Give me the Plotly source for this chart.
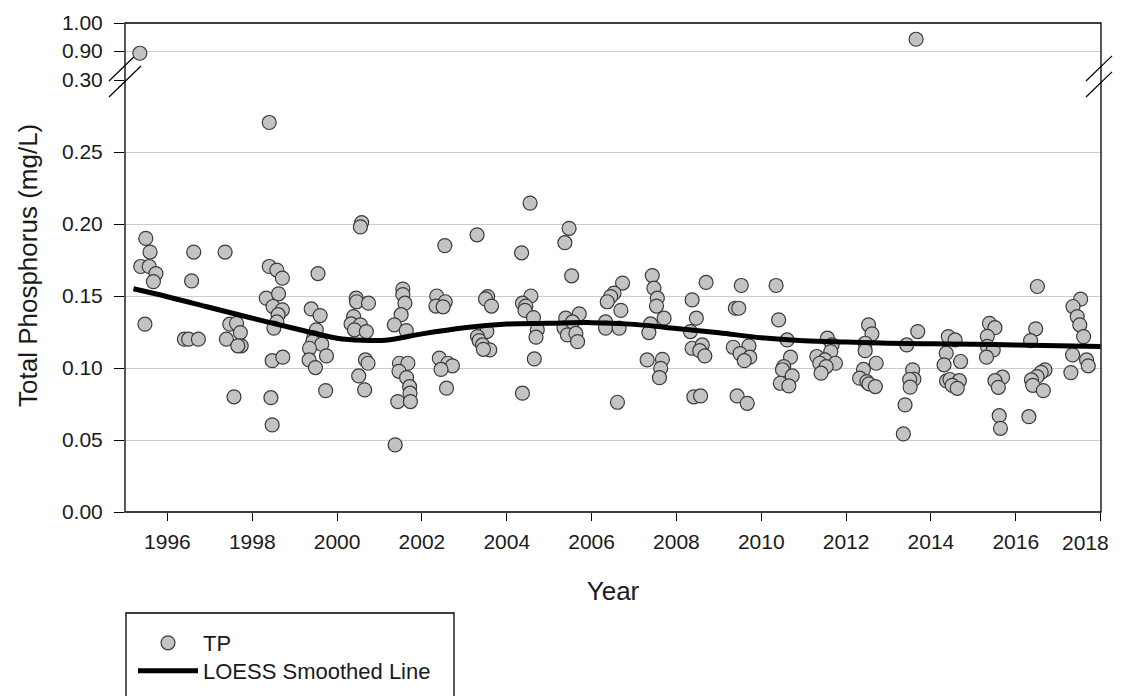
import plotly.graph_objects as go

# ---------------- data ----------------
tp_year = [
    1995.49, 1995.59, 1995.37, 1995.57, 1995.73, 1995.67, 1995.47,
    1996.62, 1996.57, 1996.40, 1996.50, 1996.73,
    1997.36, 1997.47, 1997.63, 1997.72, 1997.39, 1997.74, 1997.66, 1997.57,
    1998.40, 1998.40, 1998.58, 1998.71, 1998.33, 1998.62, 1998.49, 1998.71, 1998.61, 1998.58,
    1998.51, 1998.47, 1998.72, 1998.44, 1998.47,
    1999.55, 1999.39, 1999.60, 1999.51, 1999.45, 1999.43, 1999.64, 1999.35, 1999.75, 1999.34,
    1999.49, 1999.73,
    2000.58, 2000.55, 2000.45, 2000.46, 2000.74, 2000.39, 2000.33, 2000.55, 2000.41, 2000.69,
    2000.67, 2000.73, 2000.51, 2000.65,
    2001.55, 2001.55, 2001.60, 2001.51, 2001.35, 2001.63, 2001.47, 2001.67, 2001.46, 2001.64,
    2001.71, 2001.72, 2001.43, 2001.73, 2001.37,
    2002.54, 2002.35, 2002.55, 2002.33, 2002.50, 2002.41, 2002.61, 2002.72, 2002.45, 2002.58,
    2003.30, 2003.55, 2003.50, 2003.64, 2003.53, 2003.31, 2003.35, 2003.43, 2003.60, 2003.45,
    2004.55, 2004.35, 2004.57, 2004.37, 2004.45, 2004.43, 2004.63, 2004.72, 2004.69, 2004.65,
    2004.37,
    2005.47, 2005.37, 2005.53, 2005.39, 2005.71, 2005.35, 2005.55, 2005.43, 2005.63, 2005.67,
    2006.73, 2006.53, 2006.45, 2006.37, 2006.69, 2006.33, 2006.33, 2006.65, 2006.61,
    2007.43, 2007.47, 2007.55, 2007.53, 2007.71, 2007.39, 2007.35, 2007.31, 2007.67, 2007.63,
    2007.60,
    2008.70, 2008.37, 2008.47, 2008.33, 2008.37, 2008.61, 2008.55, 2008.67, 2008.41, 2008.57,
    2009.53, 2009.39, 2009.47, 2009.34, 2009.71, 2009.50, 2009.73, 2009.60, 2009.43, 2009.67,
    2010.35, 2010.41, 2010.61, 2010.69, 2010.53, 2010.50, 2010.73, 2010.45, 2010.65,
    2011.56, 2011.67, 2011.64, 2011.31, 2011.50, 2011.38, 2011.75, 2011.53, 2011.41,
    2012.53, 2012.61, 2012.45, 2012.45, 2012.71, 2012.41, 2012.32, 2012.49, 2012.54, 2012.69,
    2013.69, 2013.43, 2013.57, 2013.60, 2013.50, 2013.51, 2013.39, 2013.35,
    2014.41, 2014.57, 2014.36, 2014.70, 2014.31, 2014.37, 2014.45, 2014.67, 2014.50, 2014.62,
    2015.38, 2015.51, 2015.33, 2015.33, 2015.47, 2015.31, 2015.69, 2015.51, 2015.59, 2015.61,
    2015.64,
    2016.51, 2016.47, 2016.35, 2016.69, 2016.60, 2016.50, 2016.37, 2016.40, 2016.65, 2016.31,
    2017.53, 2017.35, 2017.45, 2017.51, 2017.60, 2017.34, 2017.67, 2017.71, 2017.30,
]
tp_value = [
    0.190, 0.1805, 0.1705, 0.1705, 0.1656, 0.160, 0.1304,
    0.1805, 0.1605, 0.120, 0.120, 0.120,
    0.1805, 0.1304, 0.131, 0.1246, 0.120, 0.1154, 0.1154, 0.080,
    0.2705, 0.1705, 0.168, 0.1624, 0.1485, 0.1515, 0.1427, 0.1404, 0.137, 0.132,
    0.1277, 0.1051, 0.1075, 0.0794, 0.0605,
    0.1656, 0.141, 0.1364, 0.1265, 0.121, 0.1183, 0.1165, 0.1137, 0.1084, 0.1056,
    0.1003, 0.0843,
    0.201, 0.198, 0.1485, 0.146, 0.145, 0.1357, 0.1306, 0.130, 0.1265, 0.1253,
    0.1056, 0.1033, 0.0945, 0.0848,
    0.1548, 0.151, 0.145, 0.137, 0.130, 0.126, 0.1033, 0.1033, 0.0977, 0.0933,
    0.087, 0.0825, 0.0767, 0.0767, 0.0466,
    0.185, 0.150, 0.146, 0.143, 0.1425, 0.1068, 0.1033, 0.1015, 0.099, 0.086,
    0.1925, 0.1496, 0.148, 0.143, 0.1253, 0.1218, 0.119, 0.116, 0.1126, 0.113,
    0.2145, 0.180, 0.150, 0.145, 0.143, 0.140, 0.135, 0.1265, 0.1214, 0.1063,
    0.0825,
    0.197, 0.187, 0.164, 0.1346, 0.1376, 0.1277, 0.132, 0.123, 0.124, 0.1183,
    0.159, 0.152, 0.1496, 0.146, 0.140, 0.132, 0.1277, 0.1277, 0.0762,
    0.1642, 0.1554, 0.1485, 0.143, 0.1346, 0.1306, 0.1246, 0.1056, 0.106, 0.0998,
    0.0933,
    0.1594, 0.1473, 0.1346, 0.1253, 0.1137, 0.116, 0.112, 0.1084, 0.080, 0.0806,
    0.1573, 0.1415, 0.1415, 0.1144, 0.1154, 0.110, 0.1075, 0.1051, 0.0806, 0.0755,
    0.1573, 0.1334, 0.1195, 0.1075, 0.101, 0.0988, 0.0945, 0.0894, 0.0876,
    0.1207, 0.116, 0.1114, 0.108, 0.1056, 0.1033, 0.1033, 0.101, 0.0964,
    0.130, 0.1237, 0.1172, 0.112, 0.1033, 0.099, 0.0929, 0.0906, 0.089, 0.0871,
    0.1253, 0.116, 0.0987, 0.0922, 0.092, 0.0867, 0.0744, 0.0542,
    0.1218, 0.1195, 0.1103, 0.1045, 0.1022, 0.091, 0.092, 0.0912, 0.088, 0.0859,
    0.131, 0.128, 0.122, 0.115, 0.1126, 0.1075, 0.0936, 0.0912, 0.0866, 0.0669,
    0.0581,
    0.1566, 0.1272, 0.119, 0.0987, 0.097, 0.094, 0.0917, 0.088, 0.0843, 0.0662,
    0.1478, 0.1427, 0.1357, 0.130, 0.1218, 0.1091, 0.1056, 0.1015, 0.0968,
]

# high outliers shown above the axis break
tp_high_year = [1995.35, 2013.65]
tp_high_value = [0.892, 0.942]

loess_year = [1995.2, 1996, 1997, 1998, 1999, 2000, 2000.6, 2001.2, 2002, 2003, 2004,
              2005, 2006, 2007, 2008, 2009, 2010, 2011, 2012, 2013, 2014, 2015,
              2016, 2017, 2018]
loess_value = [0.155, 0.1495, 0.142, 0.1346, 0.1274, 0.1207, 0.1193, 0.1195, 0.1237,
               0.128, 0.1305, 0.131, 0.1315, 0.1303, 0.1275, 0.1245, 0.121, 0.119,
               0.118, 0.1172, 0.1168, 0.1165, 0.116, 0.1155, 0.115]

x_ticks = list(range(1996, 2019, 2))
x_tick_text = [str(v) for v in x_ticks[:-1]] + [""]   # last label drawn as annotation
x_last_tick = x_ticks[-1]
y_low_ticks = [0.00, 0.05, 0.10, 0.15, 0.20, 0.25, 0.30]
y_high_ticks = [0.90, 1.00]

# ---------------- layout geometry (page pixels; body has an 8px margin) ----------------
OFF = 8
W, H = 1121 - OFF, 696 - OFF
ML, MR, MT = 125 - OFF, 20, 23 - OFF
PW = W - ML - MR          # 976
PH = 489
MB = H - MT - PH
PLOT_LEFT, PLOT_BOTTOM = 125, 512   # page coordinates
BREAK_PX = 80  # page row of the axis break (top of lower panel)
low_top = (PLOT_BOTTOM - BREAK_PX) / PH


def px(x):
    return (x - PLOT_LEFT) / PW


def py(y):
    return (PLOT_BOTTOM - y) / PH


FONT = "Liberation Sans, Arial, sans-serif"
TXT = "#1a1a1a"
marker_style = dict(size=14, color="#c3c3c3", line=dict(color="#3a3a3a", width=1.2))

fig = go.Figure()
fig.add_trace(go.Scatter(
    x=tp_year, y=tp_value, mode="markers", name="TP",
    marker=marker_style, xaxis="x", yaxis="y", legend="legend",
))
fig.add_trace(go.Scatter(
    x=tp_high_year, y=tp_high_value, mode="markers", name="TP",
    marker=marker_style, xaxis="x", yaxis="y2", showlegend=False,
))
fig.add_trace(go.Scatter(
    x=loess_year, y=loess_value, mode="lines", name="LOESS Smoothed Line",
    line=dict(color="black", width=5, shape="spline", smoothing=1.0),
    xaxis="x", yaxis="y", legend="legend2",
))

shapes = [
    dict(type="rect", xref="paper", yref="paper", x0=0, x1=1, y0=0, y1=1,
         line=dict(color="black", width=1.3), layer="above"),
]
# axis-break marks
for xc, span in ((PLOT_LEFT - 16, 32), (PLOT_LEFT + PW - 15, 26)):
    for yb in (81, 97):
        shapes.append(dict(type="line", xref="paper", yref="paper",
                           x0=px(xc), y0=py(yb), x1=px(xc + span), y1=py(yb - span * 31 / 32),
                           line=dict(color="black", width=1.2), layer="below"))
# legend frame (extends past the bottom edge as in the original)
shapes.append(dict(type="rect", xref="paper", yref="paper",
                   x0=px(126), x1=px(454), y0=py(730), y1=py(613),
                   line=dict(color="black", width=1.3)))

legend_common = dict(xanchor="left", yanchor="top", bgcolor="rgba(0,0,0,0)",
                     borderwidth=0, font=dict(size=22, color=TXT), itemwidth=60)

fig.update_layout(
    width=W, height=H,
    margin=dict(l=ML, r=MR, t=MT, b=MB, autoexpand=False),
    paper_bgcolor="white", plot_bgcolor="white",
    font=dict(family=FONT, size=21, color=TXT),
    showlegend=True,
    legend=dict(x=px(133), y=py(622), **legend_common),
    legend2=dict(x=px(133), y=py(650), **legend_common),
    xaxis=dict(range=[1995, 2018.01], tickvals=x_ticks, ticktext=x_tick_text,
               ticks="outside", ticklen=8,
               tickcolor="black", showgrid=False, zeroline=False, showline=False,
               anchor="y", tickfont=dict(size=21), ticklabelstandoff=3,
               automargin=False,
               title=dict(text="Year", font=dict(size=26), standoff=29)),
    yaxis=dict(domain=[0, low_top], range=[0, 0.30], tickvals=y_low_ticks,
               tickformat=".2f", ticks="outside", ticklen=10, tickcolor="black",
               showgrid=True, gridcolor="#cccccc", gridwidth=1, zeroline=False,
               showline=False, anchor="x", tickfont=dict(size=21), ticklabelstandoff=7,
               automargin=False),
    yaxis2=dict(domain=[low_top, 1], range=[1.0 - 0.1 * (BREAK_PX - 23) / 28, 1.0],
                tickvals=y_high_ticks, tickformat=".2f", ticks="outside", ticklen=10,
                tickcolor="black", showgrid=True, gridcolor="#cccccc", gridwidth=1,
                zeroline=False, showline=False, anchor="x", tickfont=dict(size=21),
                ticklabelstandoff=7, automargin=False),
    annotations=[
        dict(text="Total Phosphorus (mg/L)", textangle=-90, showarrow=False,
             xref="paper", yref="paper", x=px(28), y=py(266),
             xanchor="center", yanchor="middle", font=dict(size=26, color=TXT)),
        dict(text=str(x_last_tick), showarrow=False, xref="x", yref="paper",
             x=x_last_tick, y=py(542), xanchor="right", yanchor="middle",
             xshift=10, font=dict(size=21, color=TXT)),
    ],
    shapes=shapes,
)

fig.write_html("out.html")
